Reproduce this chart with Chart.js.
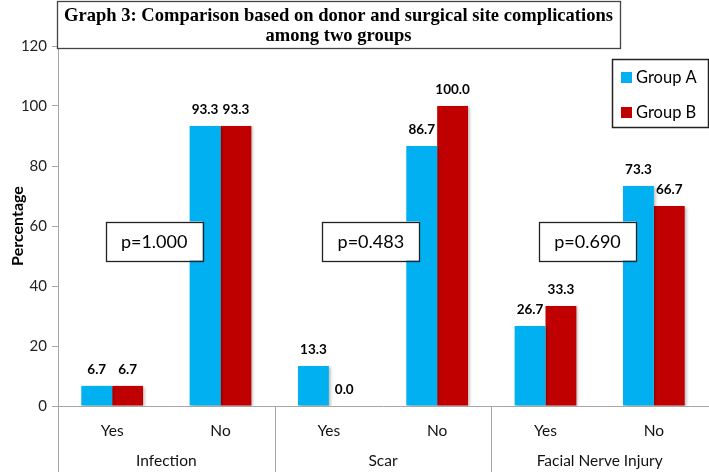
<!DOCTYPE html>
<html>
<head>
<meta charset="utf-8">
<script src="https://cdn.jsdelivr.net/npm/chart.js@4.4.0/dist/chart.umd.min.js"></script>
<style>
html, body { margin: 0; padding: 0; background: #fff; }
</style>
</head>
<body>
<canvas id="chart" width="709" height="472"></canvas>
<script>
// Chart values
const subLabels = ['Yes', 'No', 'Yes', 'No', 'Yes', 'No'];
const groupNames = ['Infection', 'Scar', 'Facial Nerve Injury'];
const seriesNames = ['Group A', 'Group B'];
const groupA = [6.7, 93.3, 13.3, 86.7, 26.7, 73.3];
const groupB = [6.7, 93.3, 0.0, 100.0, 33.3, 66.7];
const pValues = ['p=1.000', 'p=0.483', 'p=0.690'];
const yMin = 0, yMax = 120, yStep = 20;
const titleLines = ['Graph 3: Comparison based on donor and surgical site complications', 'among two groups'];
const yTitle = 'Percentage';

const colors = ['#00B0F0', '#C00000'];
const axisColor = '#a6a6a6';
const sans = 'Lato, "Open Sans", sans-serif';
const serif = '"Liberation Serif", "Times New Roman", serif';

// soft shadow on the bars, like the original
const barShadow = {
    id: 'barShadow',
    beforeDatasetsDraw(chart) {
        const ctx = chart.ctx;
        ctx.save();
        ctx.shadowColor = 'rgba(0,0,0,0.28)';
        ctx.shadowBlur = 3;
        ctx.shadowOffsetX = 2;
        ctx.shadowOffsetY = 1;
    },
    afterDatasetsDraw(chart) {
        chart.ctx.restore();
    }
};

// title box, legend, p-value boxes, group labels, value labels
const decor = {
    id: 'decor',
    afterDraw(chart) {
        const ctx = chart.ctx;
        const xs = chart.scales.x;
        const ys = chart.scales.y;
        const area = chart.chartArea;
        const H = chart.height;

        ctx.save();

        // group separators below the axis
        ctx.strokeStyle = axisColor;
        ctx.lineWidth = 1;
        const bounds = [area.left];
        for (let g = 1; g < groupNames.length; g++) {
            bounds.push((xs.getPixelForValue(2 * g - 1) + xs.getPixelForValue(2 * g)) / 2);
        }
        bounds.push(area.right);
        for (let i = 0; i < bounds.length - 1; i++) {
            const bx = Math.round(bounds[i]) + 0.5;
            ctx.beginPath();
            ctx.moveTo(bx, area.bottom);
            ctx.lineTo(bx, H);
            ctx.stroke();
        }

        // group names
        ctx.fillStyle = '#111';
        ctx.font = '15.5px ' + sans;
        ctx.textAlign = 'center';
        ctx.textBaseline = 'middle';
        groupNames.forEach(function(name, g) {
            ctx.fillText(name, (bounds[g] + bounds[g + 1]) / 2, area.bottom + 55);
        });

        // value labels over bars
        ctx.font = 'bold 13.5px ' + sans;
        ctx.fillStyle = '#000';
        chart.data.datasets.forEach(function(ds, di) {
            chart.getDatasetMeta(di).data.forEach(function(bar, i) {
                ctx.fillText(ds.data[i].toFixed(1), bar.x, bar.y - 16);
            });
        });

        // p-value boxes
        ctx.font = '18px ' + sans;
        pValues.forEach(function(p, g) {
            const cx = xs.getPixelForValue(2 * g) + 42;
            const cy = ys.getPixelForValue(55);
            const w = 97, h = 39;
            ctx.fillStyle = '#fff';
            ctx.fillRect(cx - w / 2, cy - h / 2, w, h);
            ctx.strokeStyle = '#222';
            ctx.lineWidth = 1.3;
            ctx.strokeRect(Math.round(cx - w / 2) + 0.5, Math.round(cy - h / 2) + 0.5, w, h);
            ctx.fillStyle = '#000';
            ctx.fillText(p, cx, cy + 1);
        });

        // title box
        const tL = area.left - 1, tR = 620, tB = area.top + 2;
        ctx.fillStyle = '#fff';
        ctx.fillRect(tL, 1, tR - tL, tB - 1);
        ctx.strokeStyle = '#444';
        ctx.lineWidth = 1.3;
        ctx.strokeRect(tL + 0.5, 1.5, tR - tL, tB - 1);
        ctx.fillStyle = '#000';
        ctx.font = 'bold 19px ' + serif;
        const tw = ctx.measureText(titleLines[0]).width;
        const sx = Math.min(1, 549 / tw);
        titleLines.forEach(function(line, i) {
            ctx.save();
            ctx.translate((tL + tR) / 2, 16 + i * 20);
            ctx.scale(sx, 1);
            ctx.fillText(line, 0, 0);
            ctx.restore();
        });

        // legend box
        const lx = 612, ly = 59, lw = 96, lh = 68;
        ctx.strokeStyle = '#222';
        ctx.lineWidth = 1.5;
        ctx.strokeRect(lx + 0.5, ly + 0.5, lw, lh);
        ctx.font = '16.5px ' + sans;
        ctx.textAlign = 'left';
        seriesNames.forEach(function(name, i) {
            const yy = ly + 18 + i * 35;
            ctx.fillStyle = colors[i];
            ctx.fillRect(lx + 9, yy - 5, 11, 11);
            ctx.fillStyle = '#000';
            ctx.fillText(name, lx + 24, yy + 1);
        });

        // y axis title
        ctx.translate(18, (area.top + area.bottom) / 2);
        ctx.rotate(-Math.PI / 2);
        ctx.textAlign = 'center';
        ctx.font = 'bold 16px ' + sans;
        ctx.fillText(yTitle, 0, 0);

        ctx.restore();
    }
};

new Chart(document.getElementById('chart'), {
    type: 'bar',
    data: {
        labels: subLabels,
        datasets: [
            { label: seriesNames[0], data: groupA, backgroundColor: colors[0], borderWidth: 0 },
            { label: seriesNames[1], data: groupB, backgroundColor: colors[1], borderWidth: 0 }
        ]
    },
    options: {
        responsive: false,
        animation: false,
        layout: { padding: { top: 46, right: 1, left: 0, bottom: 0 } },
        datasets: {
            bar: { barPercentage: 1, categoryPercentage: 0.57 }
        },
        plugins: {
            legend: { display: false },
            title: { display: false },
            tooltip: { enabled: false }
        },
        scales: {
            x: {
                grid: { display: false },
                border: { display: true, color: axisColor, width: 1 },
                ticks: { font: { family: sans, size: 15.5 }, color: '#111', padding: 8 },
                afterFit: function(scale) { scale.height = 66; }
            },
            y: {
                min: yMin,
                max: yMax,
                grid: { drawOnChartArea: false, color: axisColor, tickLength: 6 },
                border: { display: true, color: axisColor, width: 1 },
                ticks: { stepSize: yStep, font: { family: sans, size: 15 }, color: '#222', padding: 5 },
                afterFit: function(scale) { scale.width = 58; }
            }
        }
    },
    plugins: [barShadow, decor]
});
</script>
</body>
</html>
